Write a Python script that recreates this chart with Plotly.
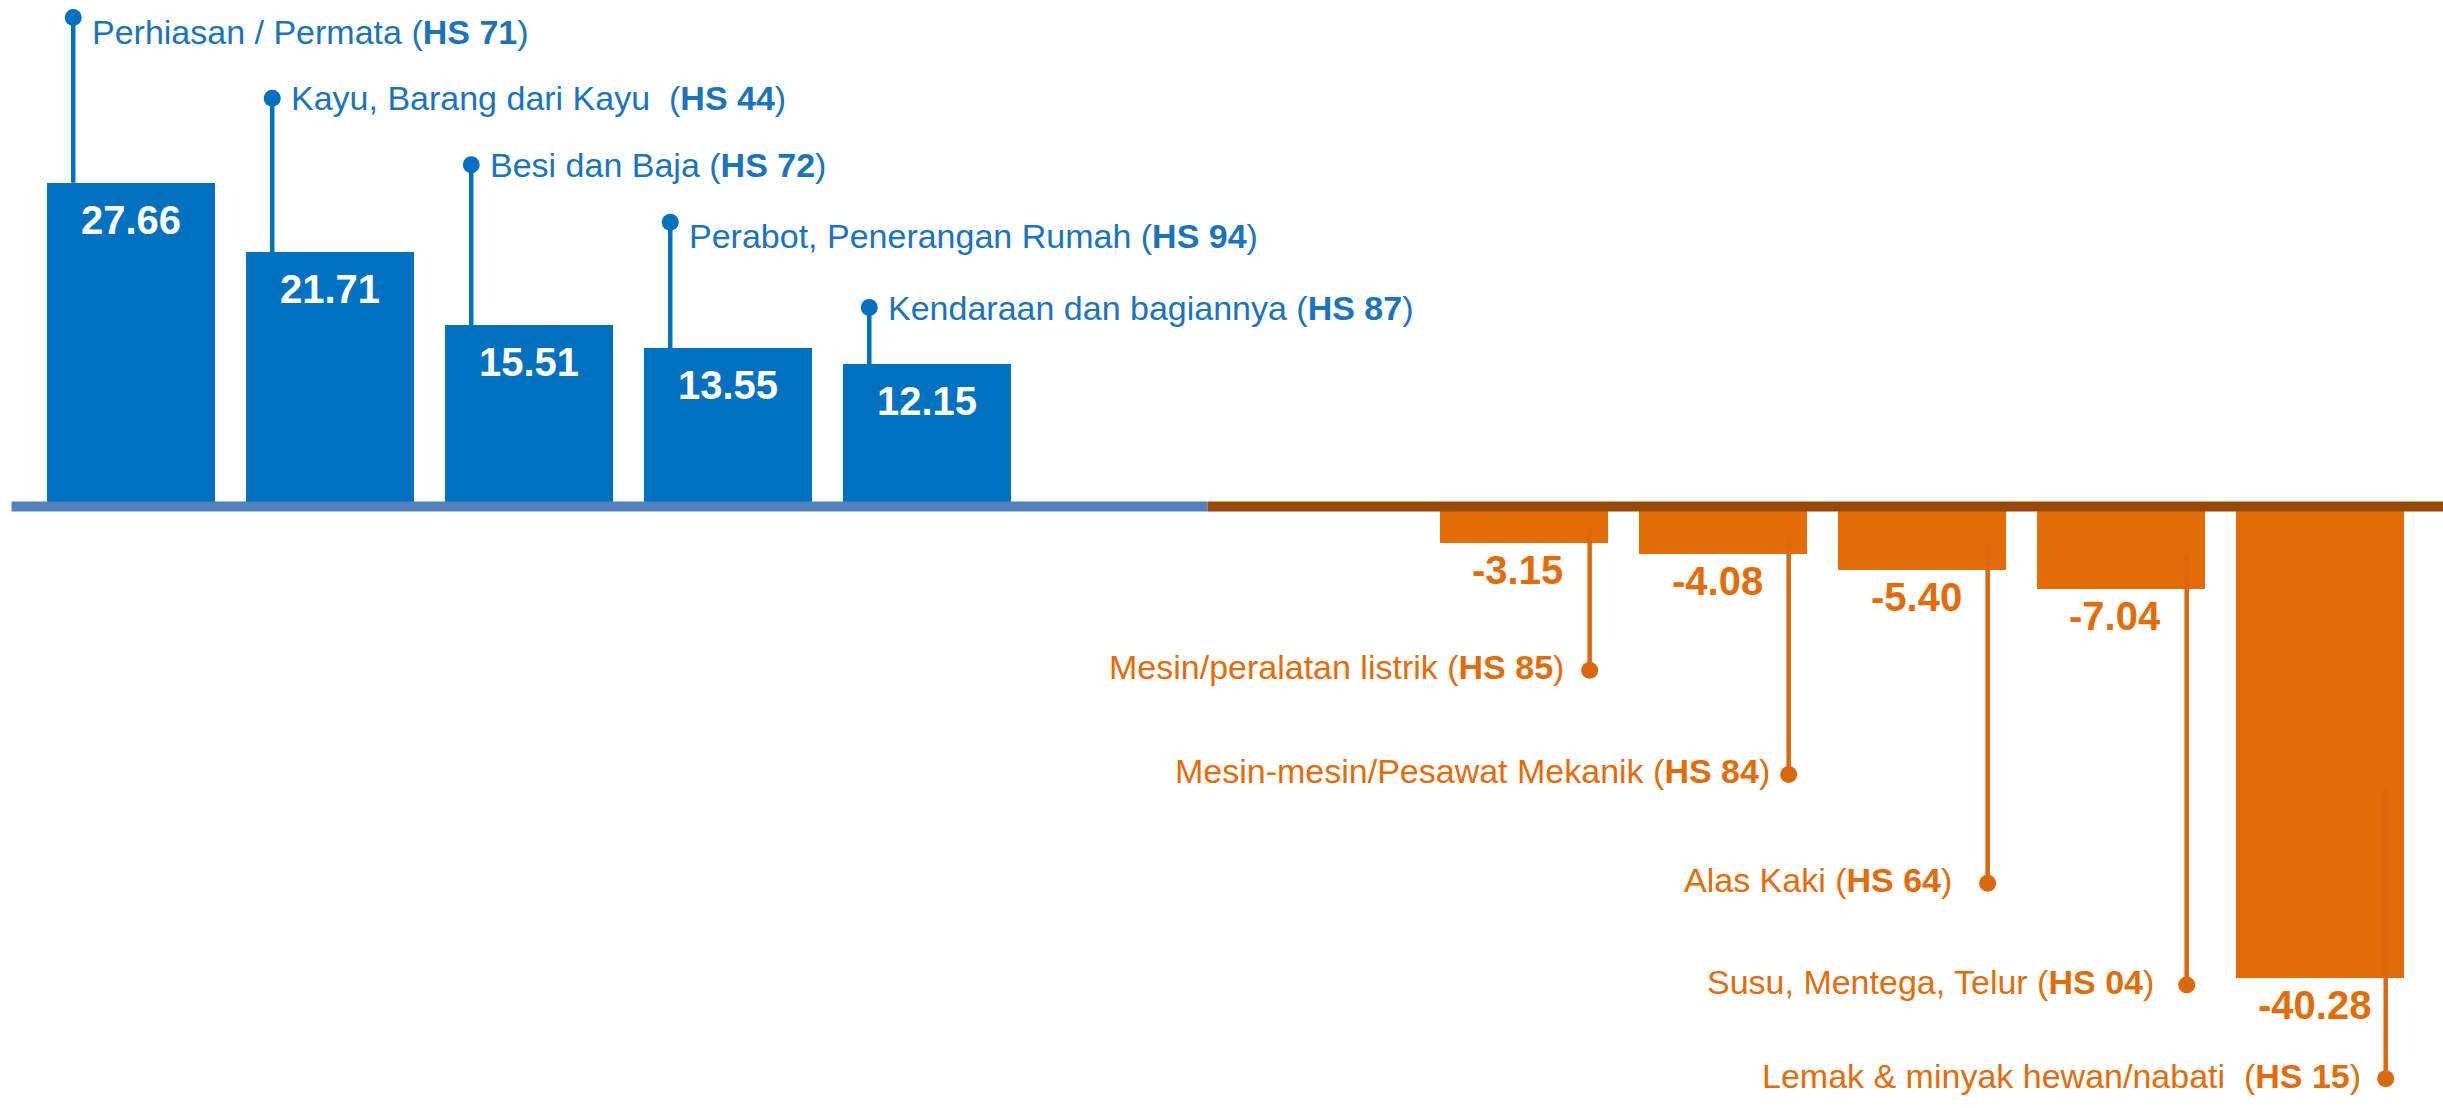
import plotly.graph_objects as go

# ---- data -------------------------------------------------------------
top_names = [
    "Perhiasan / Permata",
    "Kayu, Barang dari Kayu\u00a0",
    "Besi dan Baja",
    "Perabot, Penerangan Rumah",
    "Kendaraan dan bagiannya",
]
top_codes = ["HS 71", "HS 44", "HS 72", "HS 94", "HS 87"]
top_values = [27.66, 21.71, 15.51, 13.55, 12.15]

bottom_names = [
    "Mesin/peralatan listrik",
    "Mesin-mesin/Pesawat Mekanik",
    "Alas Kaki",
    "Susu, Mentega, Telur",
    "Lemak & minyak hewan/nabati\u00a0",
]
bottom_codes = ["HS 85", "HS 84", "HS 64", "HS 04", "HS 15"]
bottom_values = [-3.15, -4.08, -5.40, -7.04, -40.28]

# ---- layout / style ---------------------------------------------------
BLUE = "#0070C0"
BLUE_TXT = "#1A73BF"
ORANGE = "#E36C09"
ORANGE_LINE = "#DC680E"
AXIS_BLUE = "#4F81BD"
AXIS_BROWN = "#984807"
FONT = "Liberation Sans Narrow, Arial Narrow, Liberation Sans, Arial, sans-serif"

top_x = [0, 1, 2, 3, 4]
bottom_x = [7, 8, 9, 10, 11]
top_tips = [41.8, 34.9, 29.2, 24.3, 17.0]         # where the leader dots sit
bottom_tips = [-14.0, -22.9, -32.2, -40.9, -48.9]
top_text_shift = [-15, 0, 0, -14, 0]
bottom_text_gap = [24, 17, 34, 31, 23]
LEAD_TOP = -0.29
LEAD_BOT = 0.33

fig = go.Figure()

fig.add_trace(go.Bar(x=top_x, y=top_values, width=0.84, marker_color=BLUE,
                     marker_line_width=0, hoverinfo="skip"))
fig.add_trace(go.Bar(x=bottom_x, y=bottom_values, width=0.84, marker_color=ORANGE,
                     marker_line_width=0, hoverinfo="skip"))

# leader lines
lx, ly = [], []
for x, v, t in zip(top_x, top_values, top_tips):
    lx += [x + LEAD_TOP, x + LEAD_TOP, None]
    ly += [v, t, None]
fig.add_trace(go.Scatter(x=lx, y=ly, mode="lines", line=dict(color=BLUE, width=4.5),
                         hoverinfo="skip"))
fig.add_trace(go.Scatter(x=[x + LEAD_TOP for x in top_x], y=top_tips, mode="markers",
                         marker=dict(color=BLUE, size=17), hoverinfo="skip"))

lx, ly = [], []
for x, v, t in zip(bottom_x, bottom_values, bottom_tips):
    lx += [x + LEAD_BOT, x + LEAD_BOT, None]
    ly += [v * 0.6, t, None]
fig.add_trace(go.Scatter(x=lx, y=ly, mode="lines", line=dict(color=ORANGE_LINE, width=4.5),
                         hoverinfo="skip"))
fig.add_trace(go.Scatter(x=[x + LEAD_BOT for x in bottom_x], y=bottom_tips, mode="markers",
                         marker=dict(color=ORANGE_LINE, size=17), hoverinfo="skip"))

ann = []
for x, v, name, code, t, sh in zip(top_x, top_values, top_names, top_codes, top_tips, top_text_shift):
    ann.append(dict(x=x, y=v, text=f"<b>{v:.2f}</b>", showarrow=False, yanchor="top",
                    yshift=-13, font=dict(color="white", size=40, family=FONT)))
    ann.append(dict(x=x + LEAD_TOP, y=t, text=f"{name} (<b>{code}</b>)", showarrow=False,
                    xanchor="left", yanchor="middle", xshift=17, yshift=sh,
                    font=dict(color=BLUE_TXT, size=34, family=FONT)))
for x, v, name, code, t, gap in zip(bottom_x, bottom_values, bottom_names, bottom_codes,
                                    bottom_tips, bottom_text_gap):
    ann.append(dict(x=x, y=v, text=f"<b>{v:.2f}</b>", showarrow=False, yanchor="top",
                    yshift=-3, xshift=-6, font=dict(color=ORANGE, size=40, family=FONT)))
    ann.append(dict(x=x + LEAD_BOT, y=t, text=f"{name} (<b>{code}</b>)", showarrow=False,
                    xanchor="right", yanchor="middle", xshift=-gap, yshift=3,
                    font=dict(color=ORANGE, size=34, family=FONT)))

fig.update_layout(
    width=2443,
    height=1108,
    margin=dict(l=0, r=0, t=0, b=0),
    paper_bgcolor="white",
    plot_bgcolor="white",
    showlegend=False,
    bargap=0,
    annotations=ann,
    shapes=[
        dict(type="line", xref="x", yref="y", x0=-0.6, x1=5.41, y0=0, y1=0,
             line=dict(color=AXIS_BLUE, width=10)),
        dict(type="line", xref="x", yref="y", x0=5.41, x1=11.7, y0=0, y1=0,
             line=dict(color=AXIS_BROWN, width=10)),
    ],
    xaxis=dict(range=[-0.658, 11.618], visible=False, fixedrange=True),
    yaxis=dict(range=[-51.41, 43.29], visible=False, fixedrange=True),
)

fig.write_html("out.html", config={"displayModeBar": False},
               post_script="document.body.style.margin='0';document.body.style.overflow='hidden';")
